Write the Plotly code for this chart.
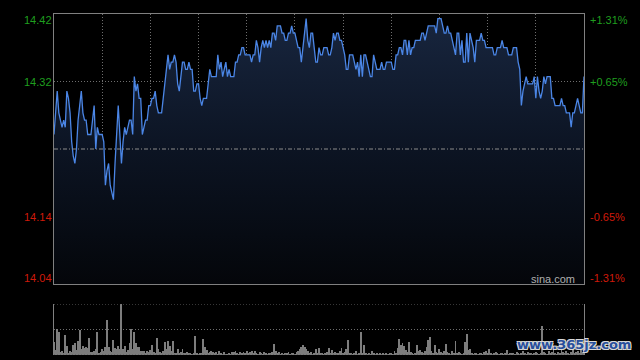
import plotly.graph_objects as go

# ---------------- data ----------------
prev_close = 14.23
price_ticks_left = ["14.42", "14.32", "14.14", "14.04"]
price_ticks_right = ["+1.31%", "+0.65%", "-0.65%", "-1.31%"]
pct_levels = [0.0131, 0.00655, -0.00655, -0.0131]
grid_minutes = [30, 60, 90, 120, 150, 180, 210, 240, 270, 300]

prices = [
    # 0-65
    14.25, 14.28, 14.31, 14.28, 14.27, 14.26, 14.27, 14.26, 14.31, 14.30,
    14.28, 14.24, 14.22, 14.21, 14.23, 14.27, 14.29, 14.31, 14.28, 14.27,
    14.27, 14.25, 14.25, 14.25, 14.27, 14.29, 14.23, 14.26, 14.25, 14.25,
    14.25, 14.24, 14.18, 14.20, 14.21, 14.18, 14.17, 14.16, 14.21, 14.26,
    14.29, 14.25, 14.21, 14.24, 14.26, 14.25, 14.26, 14.27, 14.27, 14.25,
    14.33, 14.31, 14.32, 14.30, 14.30, 14.25, 14.26, 14.27, 14.27, 14.29,
    14.29, 14.30, 14.30, 14.31, 14.29, 14.28,
    # 66-131
    14.28, 14.28, 14.30, 14.32, 14.34, 14.36, 14.34, 14.35, 14.35, 14.36,
    14.35, 14.32, 14.31, 14.33, 14.35, 14.35, 14.34, 14.34, 14.35, 14.34,
    14.34, 14.31, 14.31, 14.32, 14.32, 14.30, 14.29, 14.30, 14.30, 14.30,
    14.32, 14.34, 14.33, 14.33, 14.33, 14.33, 14.36, 14.34, 14.35, 14.33,
    14.34, 14.35, 14.33, 14.34, 14.33, 14.33, 14.33, 14.35, 14.35, 14.36,
    14.36, 14.37, 14.37, 14.36, 14.36, 14.36, 14.36, 14.35, 14.36, 14.36,
    14.38, 14.37, 14.35, 14.37, 14.38, 14.37,
    # 132-197
    14.38, 14.37, 14.38, 14.37, 14.39, 14.39, 14.38, 14.40, 14.40, 14.40,
    14.39, 14.39, 14.38, 14.38, 14.39, 14.39, 14.40, 14.39, 14.39, 14.38,
    14.37, 14.37, 14.35, 14.37, 14.39, 14.41, 14.38, 14.37, 14.39, 14.39,
    14.37, 14.35, 14.35, 14.37, 14.36, 14.36, 14.37, 14.37, 14.37, 14.36,
    14.36, 14.37, 14.39, 14.38, 14.39, 14.39, 14.38, 14.38, 14.37, 14.36,
    14.34, 14.34, 14.36, 14.36, 14.36, 14.35, 14.34, 14.35, 14.33, 14.36,
    14.33, 14.36, 14.36, 14.35, 14.34, 14.33,
    # 198-263
    14.33, 14.36, 14.35, 14.34, 14.34, 14.34, 14.35, 14.34, 14.34, 14.35,
    14.35, 14.35, 14.35, 14.34, 14.34, 14.36, 14.36, 14.37, 14.37, 14.36,
    14.38, 14.38, 14.36, 14.38, 14.36, 14.37, 14.37, 14.38, 14.38, 14.38,
    14.38, 14.39, 14.39, 14.38, 14.39, 14.40, 14.40, 14.40, 14.40, 14.40,
    14.39, 14.41, 14.41, 14.41, 14.40, 14.39, 14.39, 14.40, 14.39, 14.39,
    14.38, 14.37, 14.36, 14.39, 14.39, 14.36, 14.38, 14.35, 14.35, 14.39,
    14.35, 14.39, 14.38, 14.37, 14.35, 14.38,
    # 264-330
    14.38, 14.38, 14.39, 14.38, 14.38, 14.37, 14.37, 14.37, 14.37, 14.37,
    14.36, 14.36, 14.37, 14.37, 14.37, 14.38, 14.37, 14.37, 14.37, 14.36,
    14.36, 14.36, 14.37, 14.37, 14.37, 14.35, 14.34, 14.29, 14.31, 14.32,
    14.33, 14.32, 14.32, 14.32, 14.32, 14.33, 14.30, 14.33, 14.31, 14.30,
    14.31, 14.33, 14.32, 14.33, 14.33, 14.33, 14.30, 14.30, 14.29, 14.29,
    14.29, 14.29, 14.30, 14.29, 14.29, 14.28, 14.28, 14.28, 14.26, 14.28,
    14.28, 14.29, 14.30, 14.29, 14.28, 14.28, 14.33,
]

volumes = [
    13, 5, 26, 23, 3, 4, 2, 20, 9, 2,
    4, 3, 10, 12, 5, 14, 25, 6, 9, 7,
    8, 7, 17, 3, 3, 4, 6, 23, 2, 3,
    6, 4, 8, 35, 8, 4, 3, 15, 7, 6,
    9, 6, 51, 6, 9, 3, 5, 12, 26, 6,
    23, 12, 8, 8, 4, 4, 4, 2, 4, 3,
    5, 10, 3, 2, 17, 6, 3, 2, 4, 13,
    6, 14, 9, 4, 14, 2, 2, 6, 2, 3,
    6, 2, 2, 3, 2, 2, 1, 2, 19, 2,
    1, 2, 2, 16, 8, 5, 2, 3, 4, 3,
    2, 3, 1, 4, 2, 1, 3, 1, 1, 2,
    1, 3, 3, 4, 2, 1, 3, 2, 3, 2,
    4, 2, 3, 4, 2, 4, 2, 1, 3, 2,
    1, 3, 2, 1, 2, 2, 3, 11, 4, 2,
    3, 1, 2, 1, 2, 2, 3, 1, 2, 2,
    1, 3, 4, 6, 8, 10, 8, 6, 4, 2,
    3, 1, 2, 6, 2, 7, 2, 2, 1, 2,
    3, 7, 2, 5, 2, 3, 2, 2, 4, 7,
    2, 3, 6, 15, 2, 2, 1, 2, 4, 1,
    2, 23, 2, 10, 2, 1, 2, 1, 4, 2,
    1, 2, 1, 2, 1, 2, 1, 2, 1, 2,
    2, 1, 4, 2, 7, 16, 10, 12, 9, 5,
    3, 13, 3, 2, 1, 2, 10, 4, 5, 3,
    2, 4, 8, 15, 18, 4, 2, 10, 3, 2,
    6, 3, 2, 4, 11, 3, 2, 1, 4, 2,
    14, 2, 3, 2, 1, 2, 13, 21, 5, 6,
    2, 1, 2, 2, 1, 2, 2, 1, 3, 4,
    2, 6, 2, 1, 2, 3, 2, 1, 2, 2,
    1, 2, 5, 1, 2, 2, 2, 1, 3, 2,
    1, 2, 4, 2, 1, 3, 2, 2, 1, 2,
    3, 2, 1, 2, 29, 3, 2, 1, 4, 2,
    3, 5, 2, 1, 3, 2, 6, 3, 2, 4,
    2, 1, 3, 5, 2, 3, 4, 2, 6, 3,
    8,
]

minutes = list(range(len(prices)))
vol_minutes = list(range(len(volumes)))

y_top = prev_close * (1 + pct_levels[0])
y_bot = prev_close * (1 + pct_levels[3])
tick_prices = [prev_close * (1 + p) for p in pct_levels]

GREEN = "#1f9e1f"
RED = "#d01a0a"
FONT = "Liberation Sans, Arial, sans-serif"

fig = go.Figure()

fig.add_trace(go.Scatter(
    x=minutes, y=prices, mode="lines",
    line=dict(color="#4b86e6", width=1.3),
    fill="tozeroy",
    fillgradient=dict(type="vertical", start=y_bot, stop=y_top,
                      colorscale=[[0, "#04060a"], [0.5, "#0c1423"], [1, "#18263f"]]),
    xaxis="x", yaxis="y", hoverinfo="skip", showlegend=False,
))

fig.add_trace(go.Bar(
    x=vol_minutes, y=volumes, width=0.6,
    marker=dict(color="#7d7d7d", line=dict(width=0)),
    xaxis="x2", yaxis="y2", hoverinfo="skip", showlegend=False,
))

main_bottom = 71 / 341
vol_top = 51 / 341

fig.update_layout(
    width=640, height=360,
    margin=dict(l=54, r=56, t=14, b=5, pad=0),
    paper_bgcolor="black", plot_bgcolor="black",
    bargap=0,
    xaxis=dict(domain=[0, 1], range=[0, 330], anchor="y",
               tickvals=grid_minutes, showticklabels=False, ticks="",
               showgrid=True, gridcolor="#6e6e6e", griddash="1px,2px", gridwidth=1,
               zeroline=False, showline=True, mirror=True,
               linecolor="#808080", linewidth=1),
    yaxis=dict(domain=[main_bottom, 1], range=[y_bot, y_top], anchor="x",
               tickvals=[tick_prices[1], tick_prices[2]], showticklabels=False, ticks="",
               showgrid=True, gridcolor="#6e6e6e", griddash="1px,2px", gridwidth=1,
               zeroline=False, showline=True, mirror=True,
               linecolor="#808080", linewidth=1),
    xaxis2=dict(domain=[0, 1], range=[0, 330], anchor="y2",
                showticklabels=False, ticks="", showgrid=False,
                zeroline=False, showline=False),
    yaxis2=dict(domain=[0, vol_top], range=[0, 51], anchor="x2",
                tickvals=[25.5], showticklabels=False, ticks="",
                showgrid=True, gridcolor="#6e6e6e", griddash="1px,2px", gridwidth=1,
                zeroline=False, showline=True, mirror=True,
                linecolor="#808080", linewidth=1),
    shapes=[
        dict(type="line", xref="x domain", yref="y", x0=0, x1=1,
             y0=prev_close, y1=prev_close,
             line=dict(color="#8c8c8c", width=1, dash="4px,2px,1px,2px")),
        dict(type="line", xref="x2 domain", yref="y2", x0=0, x1=1,
             y0=51, y1=51, line=dict(color="#6e6e6e", width=1, dash="1px,2px")),
        dict(type="line", xref="x2 domain", yref="y2", x0=0, x1=1,
             y0=0, y1=0, line=dict(color="#5a5a5a", width=1, dash="1px,2px")),
    ],
)

annotations = []
yshifts = [-6, 0, 0, 6]
for i in range(4):
    col = GREEN if pct_levels[i] > 0 else RED
    annotations.append(dict(
        text=price_ticks_left[i], xref="paper", yref="y", x=0, y=tick_prices[i],
        xanchor="right", yanchor="middle", xshift=0, yshift=yshifts[i],
        showarrow=False, font=dict(family=FONT, size=11, color=col)))
    annotations.append(dict(
        text=price_ticks_right[i], xref="paper", yref="y", x=1, y=tick_prices[i],
        xanchor="left", yanchor="middle", xshift=4, yshift=yshifts[i],
        showarrow=False, font=dict(family=FONT, size=11, color=col)))

annotations.append(dict(
    text="sina.com", xref="paper", yref="paper", x=0.99, y=main_bottom,
    xanchor="right", yanchor="bottom", yshift=-3, xshift=-2, showarrow=False,
    font=dict(family=FONT, size=11, color="#b0b0b0")))

annotations.append(dict(
    text="<b>www.365jz.com</b>", xref="paper", yref="paper", x=1, y=0,
    xanchor="left", yanchor="bottom", xshift=-69, yshift=1, showarrow=False,
    font=dict(family="DejaVu Sans, sans-serif", size=13, color="#284f9c",
              shadow="1px 1px 0 #d8d8d8, -1px -1px 0 #d8d8d8, 1px -1px 0 #d8d8d8, -1px 1px 0 #d8d8d8")))

fig.update_layout(annotations=annotations)

fig.write_html(
    "out.html",
    config={"displayModeBar": False},
    post_script="document.body.style.margin='0';document.body.style.background='black';",
)
